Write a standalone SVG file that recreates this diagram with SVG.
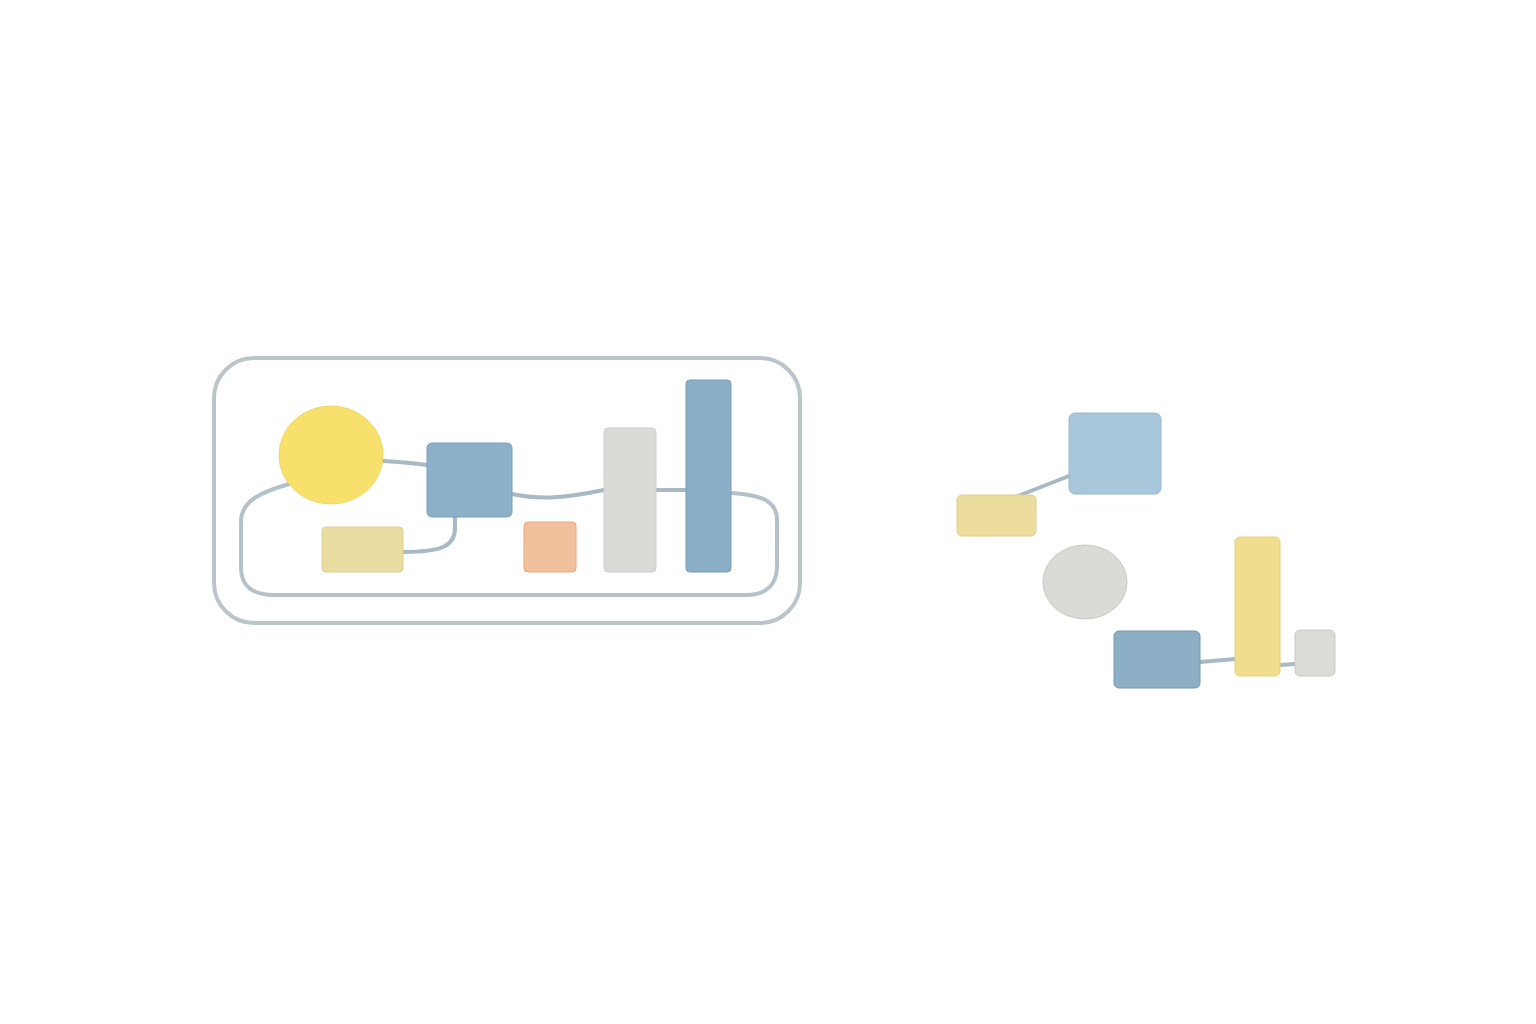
<svg xmlns="http://www.w3.org/2000/svg" width="1536" height="1024" viewBox="0 0 1536 1024">
<style>
.frame{fill:none;stroke:#b9c5c9;stroke-width:4}
.conn path{fill:none;stroke:#a7b9c3;stroke-width:4;stroke-linecap:round}
.conn path.loop{stroke:#b3c2c8}
.node{stroke-width:1}
</style>
<rect width="1536" height="1024" fill="#ffffff"/>
<g id="frame">
<rect class="frame" x="214" y="358" width="586" height="265" rx="40"/>
</g>
<g id="connectors" class="conn">
<path class="loop" d="M289 484 C262 492 241 500 241 522 L241 568 C241 587 254 595 274 595 L746 595 C766 595 777 585 777 566 L777 520 C777 500 760 495 732 493"/>
<path d="M383 461 C400 462 412 463 427 465"/>
<path d="M455 517 L455 528 C455 546 442 552 403 552"/>
<path d="M512 494 C540 500 565 498 604 490"/>
<path d="M656 490 L686 490"/>
<path d="M1018 496 L1069 476"/>
<path d="M1200 662 L1235 659"/>
<path d="M1280 665 L1295 664"/>
</g>
<g id="n-circle"><ellipse class="node" cx="331" cy="455" rx="52" ry="49" fill="#f8e06c" stroke="#f2d862"/></g>
<g id="n-blue-square"><rect class="node" x="427" y="443" width="85" height="74" rx="5" fill="#8db0c9" stroke="#7d9fb8"/></g>
<g id="n-yellow-rect"><rect class="node" x="322" y="527" width="81" height="45" rx="4" fill="#e9dca1" stroke="#e0d08c"/></g>
<g id="n-orange"><rect class="node" x="524" y="522" width="52" height="50" rx="4" fill="#f1c19d" stroke="#e8a980"/></g>
<g id="n-gray-bar"><rect class="node" x="604" y="428" width="52" height="144" rx="4" fill="#dadbd7" stroke="#cfcfcb"/></g>
<g id="n-tall-blue"><rect class="node" x="686" y="380" width="45" height="192" rx="4" fill="#8cafc8" stroke="#7a9db6"/></g>
<g id="n-light-blue"><rect class="node" x="1069" y="413" width="92" height="81" rx="6" fill="#a8c7da" stroke="#98b8cc"/></g>
<g id="n-yellow-right"><rect class="node" x="957" y="495" width="79" height="41" rx="5" fill="#ecdc9e" stroke="#e0cf88"/></g>
<g id="n-gray-ellipse"><ellipse class="node" cx="1085" cy="582" rx="42" ry="37" fill="#d9dbd7" stroke="#c8c9c4"/></g>
<g id="n-blue-rect"><rect class="node" x="1114" y="631" width="86" height="57" rx="5" fill="#8cafc5" stroke="#7899b0"/></g>
<g id="n-yellow-bar"><rect class="node" x="1235" y="537" width="45" height="139" rx="5" fill="#f0de8e" stroke="#e4d07a"/></g>
<g id="n-small-gray"><rect class="node" x="1295" y="630" width="40" height="46" rx="5" fill="#dbdcd8" stroke="#c9cac6"/></g>
</svg>
